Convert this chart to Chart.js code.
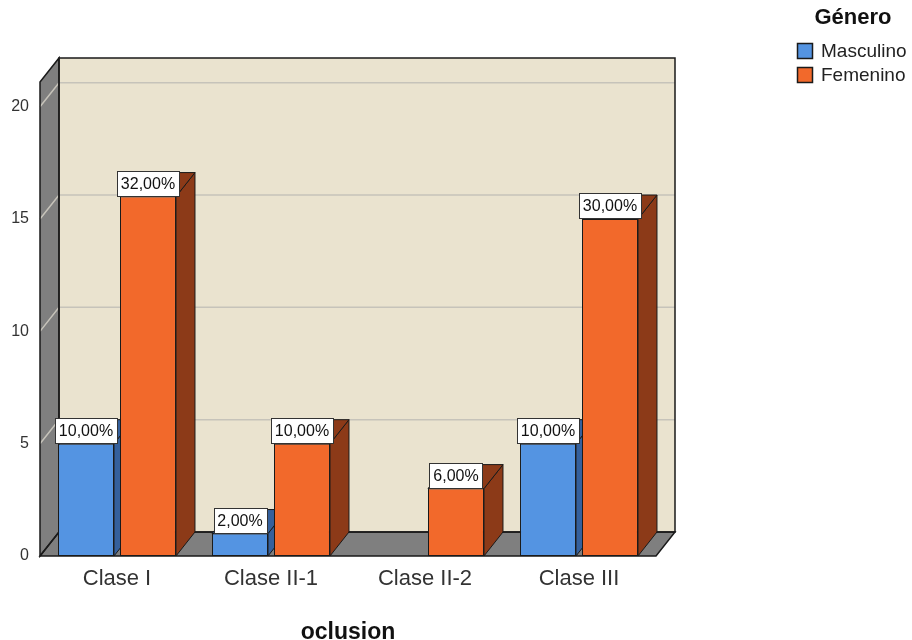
<!DOCTYPE html>
<html>
<head>
<meta charset="utf-8">
<script src="https://cdn.jsdelivr.net/npm/chart.js@4.4.1/dist/chart.umd.min.js"></script>
<style>
  body { margin: 0; background: #fff; }
</style>
</head>
<body>
<canvas id="oclusion-chart" width="912" height="640"></canvas>
<script>
var categories = ['Clase I', 'Clase II-1', 'Clase II-2', 'Clase III'];
var masculino = [5, 1, 0, 5];
var femenino = [16, 5, 3, 15];
var yTicks = [0, 5, 10, 15, 20];
var yMax = 21.1;

var FONT = "'Liberation Sans', Arial, sans-serif";
var depthX = 19, depthY = 24;
var wallColor = '#7F7F7F', backColor = '#EAE3CF', gridColor = '#C6C3BA';
var legendItems = [
    { text: 'Masculino', color: '#5494E2' },
    { text: 'Femenino', color: '#F2692B' }
];
var sideColors = ['#35609C', '#8C3A18'];

var total = masculino.concat(femenino).reduce(function(a, b) { return a + b; }, 0);
function pct(v) {
    return (v / total * 100).toFixed(2).replace('.', ',') + '%';
}

function poly(ctx, pts, fill, stroke, lw) {
    ctx.beginPath();
    ctx.moveTo(pts[0][0], pts[0][1]);
    for (var i = 1; i < pts.length; i++) ctx.lineTo(pts[i][0], pts[i][1]);
    ctx.closePath();
    if (fill) { ctx.fillStyle = fill; ctx.fill(); }
    if (stroke) { ctx.strokeStyle = stroke; ctx.lineWidth = lw || 1; ctx.stroke(); }
}

// walls, floor, gridlines and the depth of every bar
var box3d = {
    id: 'box3d',
    beforeDatasetsDraw: function(chart) {
        var ctx = chart.ctx, a = chart.chartArea, ys = chart.scales.y;
        var bl = a.left + depthX, br = a.right + depthX;
        var bt = a.top - depthY, bb = a.bottom - depthY;
        ctx.save();
        poly(ctx, [[bl, bt], [br, bt], [br, bb], [bl, bb]], backColor);
        poly(ctx, [[a.left, a.top], [bl, bt], [bl, bb], [a.left, a.bottom]], wallColor);
        poly(ctx, [[a.left, a.bottom], [bl, bb], [br, bb], [a.right, a.bottom]], wallColor);

        ctx.strokeStyle = gridColor;
        ctx.lineWidth = 1.5;
        yTicks.forEach(function(v) {
            if (v === 0) return;
            var py = ys.getPixelForValue(v);
            ctx.beginPath();
            ctx.moveTo(a.left, py);
            ctx.lineTo(bl, py - depthY);
            ctx.lineTo(br, py - depthY);
            ctx.stroke();
        });

        poly(ctx, [[bl, bt], [br, bt], [br, bb], [bl, bb]], null, '#1a1a1a', 1.5);
        poly(ctx, [[a.left, a.top], [bl, bt], [bl, bb], [a.left, a.bottom]], null, '#1a1a1a', 1.5);
        poly(ctx, [[a.left, a.bottom], [bl, bb], [br, bb], [a.right, a.bottom]], null, '#1a1a1a', 1.5);

        chart.data.datasets.forEach(function(ds, di) {
            var meta = chart.getDatasetMeta(di);
            meta.data.forEach(function(bar, i) {
                if (!ds.data[i]) return;
                var p = bar.getProps(['x', 'y', 'base', 'width'], true);
                var l = p.x - p.width / 2, r = p.x + p.width / 2;
                poly(ctx, [[r, p.y], [r + depthX, p.y - depthY], [r + depthX, p.base - depthY], [r, p.base]],
                    sideColors[di], '#1a1a1a', 1);
                poly(ctx, [[l, p.y], [l + depthX, p.y - depthY], [r + depthX, p.y - depthY], [r, p.y]],
                    sideColors[di], '#1a1a1a', 1);
            });
        });
        ctx.restore();
    },
    afterDatasetsDraw: function(chart) {
        var ctx = chart.ctx;
        ctx.save();
        ctx.font = '16px ' + FONT;
        ctx.textAlign = 'center';
        ctx.textBaseline = 'middle';
        chart.data.datasets.forEach(function(ds, di) {
            var meta = chart.getDatasetMeta(di);
            meta.data.forEach(function(bar, i) {
                if (!ds.data[i]) return;
                var p = bar.getProps(['x', 'y'], true);
                var txt = pct(ds.data[i]);
                var w = Math.round(ctx.measureText(txt).width) + 8, h = 25;
                var bx = Math.round(p.x - w / 2) + 0.5, by = Math.round(p.y - 1 - h) + 0.5;
                ctx.fillStyle = '#fff';
                ctx.fillRect(bx, by, w, h);
                ctx.strokeStyle = '#333';
                ctx.lineWidth = 1;
                ctx.strokeRect(bx, by, w, h);
                ctx.fillStyle = '#111';
                ctx.fillText(txt, p.x, by + h / 2 + 1);
            });
        });
        ctx.restore();
    },
    afterDraw: function(chart) {
        var ctx = chart.ctx;
        ctx.save();
        ctx.fillStyle = '#111';
        ctx.textBaseline = 'middle';
        ctx.textAlign = 'center';
        ctx.font = 'bold 22px ' + FONT;
        ctx.fillText('Género', 853, 18);
        ctx.textAlign = 'left';
        ctx.font = '19px ' + FONT;
        legendItems.forEach(function(it, i) {
            var y = 43 + i * 24;
            ctx.fillStyle = it.color;
            ctx.fillRect(797.5, y + 0.5, 15, 15);
            ctx.strokeStyle = '#1a1a1a';
            ctx.lineWidth = 1.5;
            ctx.strokeRect(797.5, y + 0.5, 15, 15);
            ctx.fillStyle = '#222';
            ctx.fillText(it.text, 821, y + 9);
        });
        ctx.restore();
    }
};

var ctx = document.getElementById('oclusion-chart');
var oclusionChart = new Chart(ctx, {
    type: 'bar',
    data: {
        labels: categories,
        datasets: [
            {
                label: 'Masculino',
                data: masculino,
                backgroundColor: legendItems[0].color,
                borderColor: '#1a1a1a',
                borderWidth: 1,
                borderSkipped: false
            },
            {
                label: 'Femenino',
                data: femenino,
                backgroundColor: legendItems[1].color,
                borderColor: '#1a1a1a',
                borderWidth: 1,
                borderSkipped: false
            }
        ]
    },
    options: {
        responsive: false,
        animation: false,
        devicePixelRatio: 1,
        categoryPercentage: 0.805,
        barPercentage: 0.903,
        layout: { padding: { top: 82, right: 256, bottom: 0, left: 0 } },
        plugins: {
            legend: { display: false },
            tooltip: { enabled: false }
        },
        scales: {
            x: {
                grid: { display: false, drawTicks: false },
                border: { display: false },
                ticks: { font: { family: FONT, size: 22 }, color: '#333', padding: 10 },
                title: {
                    display: true,
                    text: 'oclusion',
                    color: '#111',
                    font: { family: FONT, size: 23, weight: 'bold', lineHeight: 1 },
                    padding: { top: 0, bottom: -4 }
                },
                afterFit: function(s) { s.height = 84; }
            },
            y: {
                min: 0,
                max: yMax,
                grid: { display: false, drawTicks: false },
                border: { display: false },
                afterBuildTicks: function(s) {
                    s.ticks = yTicks.map(function(v) { return { value: v }; });
                },
                ticks: { font: { family: FONT, size: 16 }, color: '#333', padding: 11 },
                afterFit: function(s) { s.width = 40; }
            }
        }
    },
    plugins: [box3d]
});
</script>
</body>
</html>
